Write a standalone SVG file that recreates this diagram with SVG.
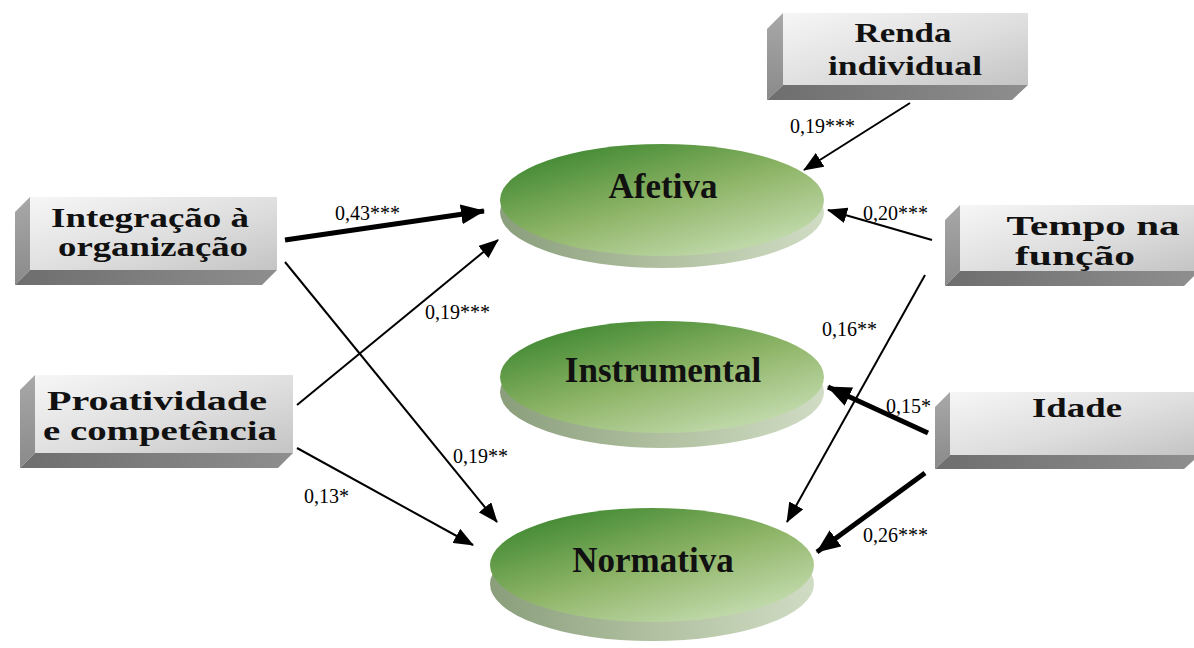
<svg xmlns="http://www.w3.org/2000/svg" width="1194" height="648" viewBox="0 0 1194 648">
<defs>
<linearGradient id="front" x1="0" y1="0" x2="1" y2="1">
<stop offset="0" stop-color="#f6f6f6"/>
<stop offset="0.55" stop-color="#dedede"/>
<stop offset="1" stop-color="#c4c4c4"/>
</linearGradient>
<linearGradient id="leftf" x1="0" y1="0" x2="0" y2="1">
<stop offset="0" stop-color="#a8a8a8"/>
<stop offset="1" stop-color="#8a8a8a"/>
</linearGradient>
<linearGradient id="bottomf" x1="0" y1="0" x2="1" y2="0">
<stop offset="0" stop-color="#6e6e6e"/>
<stop offset="1" stop-color="#8e8e8e"/>
</linearGradient>
<linearGradient id="top" x1="0.1" y1="0" x2="0.9" y2="1">
<stop offset="0" stop-color="#35822a"/>
<stop offset="0.5" stop-color="#8db466"/>
<stop offset="1" stop-color="#cfe3bd"/>
</linearGradient>
<linearGradient id="side" x1="0" y1="0" x2="1" y2="0">
<stop offset="0" stop-color="#8a9e7c"/>
<stop offset="0.5" stop-color="#b0c0a0"/>
<stop offset="1" stop-color="#d0dcc4"/>
</linearGradient>
<marker id="ah" markerUnits="userSpaceOnUse" markerWidth="20" markerHeight="16" refX="19" refY="8" orient="auto">
<path d="M0,0 L20,8 L0,16 Z" fill="#000"/>
</marker>
<marker id="ahb" markerUnits="userSpaceOnUse" markerWidth="24" markerHeight="20" refX="23" refY="10" orient="auto">
<path d="M0,0 L24,10 L0,20 Z" fill="#000"/>
</marker>
</defs>
<style>
.fr{fill:url(#front);}
.lf{fill:url(#leftf);}
.bf{fill:url(#bottomf);}
.bt{font-family:"Liberation Serif","Times New Roman",serif;font-weight:bold;font-size:28px;fill:#111;text-anchor:middle;}
.et{font-family:"Liberation Serif","Times New Roman",serif;font-weight:bold;font-size:35px;fill:#111;text-anchor:middle;}
.lb{font-family:"Liberation Serif","Times New Roman",serif;font-size:20px;fill:#000;}
.tn{stroke:#000;stroke-width:2;fill:none;marker-end:url(#ah);}
.tk{stroke:#000;stroke-width:5;fill:none;marker-end:url(#ahb);}
.ts{fill:url(#top);}
.sd{fill:url(#side);}
</style>

<g id="connectors">
<line class="tk" x1="285" y1="240" x2="484" y2="211"/>
<line class="tn" x1="285" y1="262" x2="497" y2="522"/>
<line class="tn" x1="297" y1="405" x2="498" y2="240"/>
<line class="tn" x1="297" y1="448" x2="473" y2="545"/>
<line class="tn" x1="910" y1="103" x2="804" y2="170"/>
<line class="tn" x1="932" y1="240" x2="828" y2="210"/>
<line class="tn" x1="925" y1="275" x2="787" y2="522"/>
<line class="tk" x1="928" y1="433" x2="828" y2="387"/>
<line class="tk" x1="925" y1="473" x2="817" y2="552"/>
<text class="lb" x="335" y="220">0,43***</text>
<text class="lb" x="453" y="463">0,19**</text>
<text class="lb" x="425" y="319">0,19***</text>
<text class="lb" x="304" y="503">0,13*</text>
<text class="lb" x="790" y="133">0,19***</text>
<text class="lb" x="863" y="220">0,20***</text>
<text class="lb" x="822" y="336">0,16**</text>
<text class="lb" x="886" y="413">0,15*</text>
<text class="lb" x="863" y="542">0,26***</text>
</g>

<g id="afetiva">
<ellipse class="sd" cx="662" cy="212" rx="162" ry="56"/>
<ellipse class="ts" cx="662" cy="200" rx="162" ry="56"/>
<text class="et" x="663" y="198">Afetiva</text>
</g>
<g id="instrumental">
<ellipse class="sd" cx="662" cy="392" rx="162" ry="56"/>
<ellipse class="ts" cx="662" cy="377" rx="162" ry="56"/>
<text class="et" x="663" y="382">Instrumental</text>
</g>
<g id="normativa">
<ellipse class="sd" cx="652" cy="584" rx="162" ry="57"/>
<ellipse class="ts" cx="652" cy="565" rx="162" ry="57"/>
<text class="et" x="653" y="572">Normativa</text>
</g>

<g id="integracao">
<polygon class="lf" points="30,197 15,212 15,285 30,270"/>
<polygon class="bf" points="30,270 277,270 262,285 15,285"/>
<rect class="fr" x="30" y="197" width="247" height="73"/>
<text class="bt" x="150" y="227" textLength="198" lengthAdjust="spacingAndGlyphs">Integração à</text>
<text class="bt" x="153" y="256" textLength="190" lengthAdjust="spacingAndGlyphs">organização</text>
</g>
<g id="proatividade">
<polygon class="lf" points="35,375 20,390 20,468 35,453"/>
<polygon class="bf" points="35,453 293,453 278,468 20,468"/>
<rect class="fr" x="35" y="375" width="258" height="78"/>
<text class="bt" x="157" y="410" textLength="220" lengthAdjust="spacingAndGlyphs">Proatividade</text>
<text class="bt" x="160" y="440" textLength="234" lengthAdjust="spacingAndGlyphs">e competência</text>
</g>
<g id="renda">
<polygon class="lf" points="783,13 767,29 767,100 783,85"/>
<polygon class="bf" points="783,85 1028,85 1012,100 767,100"/>
<rect class="fr" x="783" y="13" width="245" height="72"/>
<text class="bt" x="903" y="42" textLength="97" lengthAdjust="spacingAndGlyphs">Renda</text>
<text class="bt" x="905" y="75" textLength="154" lengthAdjust="spacingAndGlyphs">individual</text>
</g>
<g id="tempo">
<polygon class="lf" points="960,205 945,220 945,286 960,271"/>
<polygon class="bf" points="960,271 1194,271 1194,276 1184,286 945,286"/>
<rect class="fr" x="960" y="205" width="234" height="66"/>
<text class="bt" x="1093" y="235" textLength="173" lengthAdjust="spacingAndGlyphs">Tempo na</text>
<text class="bt" x="1075" y="265" textLength="120" lengthAdjust="spacingAndGlyphs">função</text>
</g>
<g id="idade">
<polygon class="lf" points="950,392 935,407 935,469 950,455"/>
<polygon class="bf" points="950,455 1194,455 1194,460 1184,469 935,469"/>
<rect class="fr" x="950" y="392" width="244" height="63"/>
<text class="bt" x="1077" y="417" textLength="90" lengthAdjust="spacingAndGlyphs">Idade</text>
</g>
</svg>
